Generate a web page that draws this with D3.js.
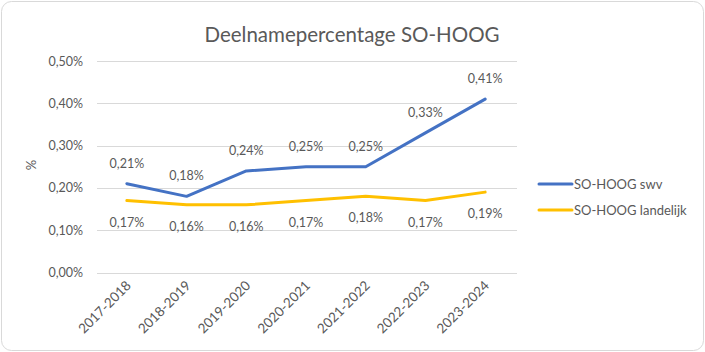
<!DOCTYPE html>
<html>
<head>
<meta charset="utf-8">
<script src="https://cdn.jsdelivr.net/npm/d3@7"></script>
<style>
  body { margin: 0; background: #fff; }
  text { font-family: Lato, "Open Sans", sans-serif; fill: #595959; }
</style>
</head>
<body>
<div id="svg-container"></div>
<script>
const years = ["2017-2018", "2018-2019", "2019-2020", "2020-2021", "2021-2022", "2022-2023", "2023-2024"];
const swv = [0.21, 0.18, 0.24, 0.25, 0.25, 0.33, 0.41];
const landelijk = [0.17, 0.16, 0.16, 0.17, 0.18, 0.17, 0.19];
const yTicks = [0, 0.1, 0.2, 0.3, 0.4, 0.5];
const seriesNames = ["SO-HOOG swv", "SO-HOOG landelijk"];
const colors = ["#4472C4", "#FFC000"];

const width = 705, height = 352;
const margin = { top: 61, right: 190, bottom: 80, left: 97 };

const svg = d3.select("#svg-container").append("svg")
  .attr("width", width).attr("height", height);

// chart border
svg.append("rect")
  .attr("x", 1.5).attr("y", 1.5)
  .attr("width", width - 3).attr("height", height - 3)
  .attr("rx", 10)
  .style("fill", "#fff").style("stroke", "#d9d9d9");

const x = d3.scaleBand().domain(years).range([margin.left, width - margin.right]);
const y = d3.scaleLinear().domain([0, 0.5]).range([height - margin.bottom + 0.5, margin.top]);

const fmt = v => d3.format(".2f")(v).replace(".", ",") + "%";

// title
svg.append("text")
  .attr("x", 352).attr("y", 42)
  .attr("text-anchor", "middle")
  .style("font-size", "20.5px")
  .text("Deelnamepercentage SO-HOOG");

// gridlines + y labels
const g = svg.append("g");
g.selectAll(".grid").data(yTicks).enter().append("line")
  .attr("x1", margin.left).attr("x2", width - margin.right + 2)
  .attr("y1", d => Math.round(y(d)) + 0.5).attr("y2", d => Math.round(y(d)) + 0.5)
  .style("stroke", "#d9d9d9");
g.selectAll(".ylab").data(yTicks).enter().append("text")
  .attr("x", 83).attr("y", d => y(d) + 4.5)
  .attr("text-anchor", "end")
  .style("font-size", "12.5px")
  .text(fmt);

svg.append("text")
  .attr("transform", "translate(36,165) rotate(-90)")
  .attr("text-anchor", "middle")
  .style("font-size", "13px")
  .text("%");

// x labels
g.selectAll(".xlab").data(years).enter().append("text")
  .attr("transform", d => `translate(${x(d) + x.bandwidth() / 2 + 5},${y(0) + 14}) rotate(-45)`)
  .attr("text-anchor", "end")
  .style("font-size", "13.5px")
  .text(d => d);

const line = d3.line()
  .x((d, i) => x(years[i]) + x.bandwidth() / 2)
  .y(d => y(d));

[swv, landelijk].forEach((vals, s) => {
  svg.append("path")
    .datum(vals)
    .attr("d", line)
    .style("fill", "none")
    .style("stroke", colors[s])
    .style("stroke-width", 3)
    .style("stroke-linejoin", "round")
    .style("stroke-linecap", "round");

  svg.selectAll(".lab" + s).data(vals).enter().append("text")
    .attr("x", (d, i) => x(years[i]) + x.bandwidth() / 2)
    .attr("y", d => s === 0 ? y(d) - 16 : y(d) + 26)
    .attr("text-anchor", "middle")
    .style("font-size", "12.5px")
    .text(fmt);
});

// legend
seriesNames.forEach((name, i) => {
  const ly = 184 + i * 26;
  svg.append("line")
    .attr("x1", 539).attr("x2", 572)
    .attr("y1", ly).attr("y2", ly)
    .style("stroke", colors[i]).style("stroke-width", 3)
    .style("stroke-linecap", "round");
  svg.append("text")
    .attr("x", 574).attr("y", ly + 4.5)
    .style("font-size", "13px")
    .text(name);
});
</script>
</body>
</html>
